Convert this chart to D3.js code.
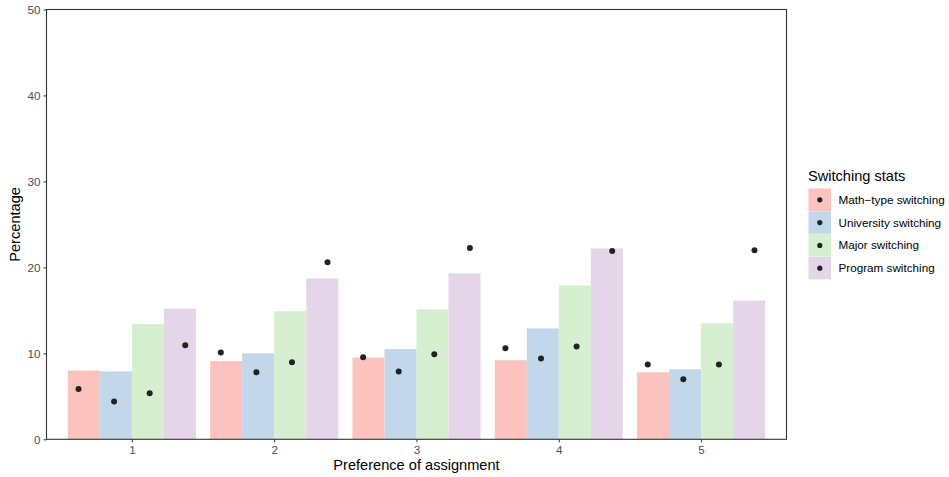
<!DOCTYPE html>
<html><head><meta charset="utf-8">
<script src="https://cdn.jsdelivr.net/npm/d3@7"></script>
<style>body{margin:0;background:#fff;} text{font-family:"Liberation Sans",Arial,sans-serif;}</style>
</head><body><svg id="c" width="949" height="477"></svg>
<script>
const categories = ["1","2","3","4","5"];
const seriesNames = ["Math\u2212type switching","University switching","Major switching","Program switching"];
const barMath = [8.0, 9.1, 9.5, 9.2, 7.8];
const barUniv = [7.9, 10.0, 10.5, 12.9, 8.15];
const barMajor = [13.4, 14.9, 15.1, 17.9, 13.5];
const barProgram = [15.2, 18.7, 19.3, 22.2, 16.15];
const ptMath = [5.85, 10.1, 9.55, 10.6, 8.7];
const ptUniv = [4.4, 7.8, 7.9, 9.4, 7.0];
const ptMajor = [5.35, 8.95, 9.9, 10.8, 8.7];
const ptProgram = [10.95, 20.6, 22.25, 21.9, 22.0];
const yTicks = [0,10,20,30,40,50];
const colors = ["#FCC3BE","#C2D7E9","#D6EFD1","#E5D5E9"];

const bars = [barMath, barUniv, barMajor, barProgram];
const pts = [ptMath, ptUniv, ptMajor, ptProgram];

const svg = d3.select("#c");
const L = 46.5, R = 786.5, T = 9.5, B = 439.3;
const unit = (R - L) / 5.2;
const xc = d3.scalePoint().domain(categories).range([L + 0.6*unit, R - 0.6*unit]);
const xs = d3.scaleBand().domain(seriesNames).range([-0.45*unit, 0.45*unit]).padding(0);
const xp = d3.scaleBand().domain(seriesNames).range([-0.5*unit, 0.5*unit]).padding(0);
const y = d3.scaleLinear().domain([0,50]).range([B, T]);

// bars
seriesNames.forEach((s, si) => {
  svg.append("g").selectAll("rect").data(categories).join("rect")
    .attr("x", c => xc(c) + xs(s))
    .attr("width", xs.bandwidth())
    .attr("y", (c, i) => y(bars[si][i]))
    .attr("height", (c, i) => y(0) - y(bars[si][i]))
    .attr("fill", colors[si]);
});
// points
seriesNames.forEach((s, si) => {
  svg.append("g").selectAll("circle").data(categories).join("circle")
    .attr("cx", c => xc(c) + xp(s) + xp.bandwidth()/2)
    .attr("cy", (c, i) => y(pts[si][i]))
    .attr("r", 3)
    .attr("fill", "#222");
});

// panel border
svg.append("rect").attr("x", L).attr("y", T).attr("width", R-L).attr("height", B-T)
  .attr("fill","none").attr("stroke","#333").attr("stroke-width",1.1);

// axes
const yAxis = svg.append("g").attr("transform", `translate(${L},0)`)
  .call(d3.axisLeft(y).tickValues(yTicks).tickSize(3).tickPadding(3));
yAxis.select(".domain").remove();
yAxis.selectAll("line").attr("stroke","#333");
yAxis.selectAll("text").attr("fill","#4d4d4d").style("font-size","11.7px").style("font-family","Liberation Sans, Arial, sans-serif");

const xAxis = svg.append("g").attr("transform", `translate(0,${B})`)
  .call(d3.axisBottom(xc).tickSize(3).tickPadding(3));
xAxis.select(".domain").remove();
xAxis.selectAll("line").attr("stroke","#333");
xAxis.selectAll("text").attr("fill","#4d4d4d").style("font-size","11.7px").style("font-family","Liberation Sans, Arial, sans-serif");

// titles
svg.append("text").attr("x", (L+R)/2).attr("y", 469.5).attr("text-anchor","middle")
  .style("font-size","14.6px").attr("fill","#000").text("Preference of assignment");
svg.append("text").attr("transform", `translate(20,${(T+B)/2}) rotate(-90)`).attr("text-anchor","middle")
  .style("font-size","14.6px").attr("fill","#000").text("Percentage");

// legend
const lg = svg.append("g");
lg.append("text").attr("x", 808).attr("y", 181).style("font-size","14.6px").attr("fill","#000").text("Switching stats");
seriesNames.forEach((s, i) => {
  const ky = 188.5 + i * 22.8;
  lg.append("rect").attr("x", 808.5).attr("y", ky).attr("width", 22.5).attr("height", 22.5).attr("fill", colors[i]);
  lg.append("circle").attr("cx", 819.8).attr("cy", ky + 11.3).attr("r", 2.6).attr("fill", "#222");
  lg.append("text").attr("x", 838.5).attr("y", ky + 11.3).attr("dy","0.35em").style("font-size","11.7px").attr("fill","#000").text(s);
});
</script></body></html>
